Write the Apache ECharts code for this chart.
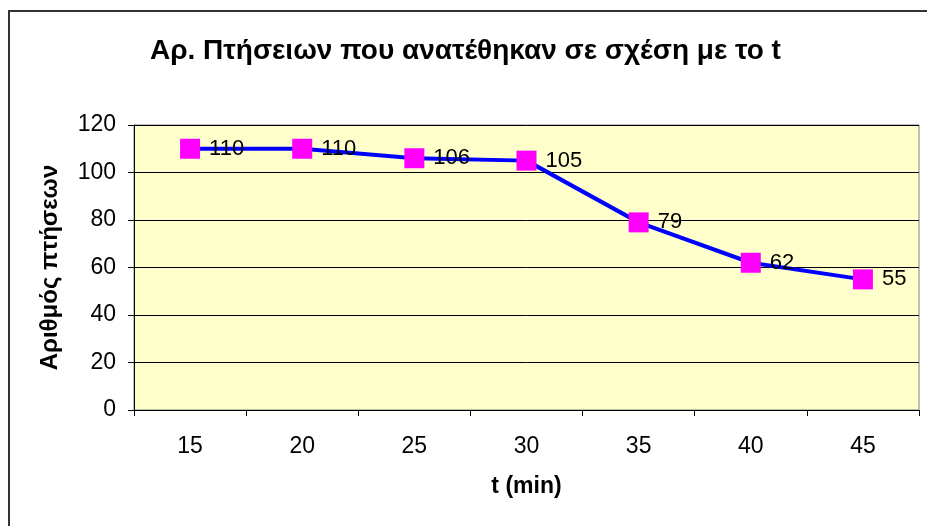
<!DOCTYPE html>
<html>
<head>
<meta charset="utf-8">
<script src="https://cdn.jsdelivr.net/npm/echarts@6/dist/echarts.min.js"></script>
<style>
  html, body { margin: 0; padding: 0; background: #fff; }
  #chart { width: 927px; height: 526px; }
</style>
</head>
<body>
<div id="chart"></div>
<script>
// Minutes (t) and number of flights assigned
const categories = ['15', '20', '25', '30', '35', '40', '45'];
const flights = [110, 110, 106, 105, 79, 62, 55];
const yTicks = [0, 20, 40, 60, 80, 100, 120];

const chart = echarts.init(document.getElementById('chart'), null, { renderer: 'canvas' });
const font = 'Arial, "Liberation Sans", sans-serif';

chart.setOption({
  animation: false,
  backgroundColor: '#ffffff',
  title: {
    text: 'Αρ. Πτήσειων που ανατέθηκαν σε σχέση με το t',
    left: 145,
    top: 32,
    textStyle: { fontFamily: font, fontSize: 28, fontWeight: 'bold', color: '#000' }
  },
  graphic: [{
    type: 'rect',
    shape: { x: 9, y: 11, width: 940, height: 540 },
    style: { fill: 'none', stroke: '#333', lineWidth: 2 },
    silent: true,
    z: 0
  }],
  grid: {
    left: 134, right: 8, top: 125, bottom: 116,
    show: true,
    backgroundColor: '#ffffcc',
    borderColor: '#808080',
    borderWidth: 1
  },
  xAxis: {
    type: 'category',
    data: categories,
    boundaryGap: true,
    name: 't (min)',
    nameLocation: 'middle',
    nameGap: 65,
    nameTextStyle: { fontFamily: font, fontSize: 23, fontWeight: 'bold', color: '#000' },
    axisLine: { lineStyle: { color: '#000', width: 1 } },
    axisTick: { show: true, alignWithLabel: false, length: 6, lineStyle: { color: '#000' } },
    axisLabel: { fontFamily: font, fontSize: 23, color: '#000', margin: 25 },
    splitLine: { show: false }
  },
  yAxis: {
    type: 'value',
    min: yTicks[0],
    max: yTicks[yTicks.length - 1],
    interval: 20,
    name: 'Αριθμός πτήσεων',
    nameLocation: 'middle',
    nameGap: 72,
    nameRotate: 90,
    nameTextStyle: { fontFamily: font, fontSize: 24, fontWeight: 'bold', color: '#000' },
    axisLine: { show: true, lineStyle: { color: '#000', width: 1 } },
    axisTick: { show: true, length: 6, lineStyle: { color: '#000' } },
    axisLabel: { fontFamily: font, fontSize: 23, color: '#000', margin: 18 },
    splitLine: { show: true, lineStyle: { color: '#000', width: 1 } }
  },
  series: [{
    type: 'line',
    data: flights,
    symbol: 'rect',
    symbolSize: 20,
    itemStyle: { color: '#ff00ff' },
    lineStyle: { color: '#0000ff', width: 4 },
    label: {
      show: true,
      position: 'right',
      distance: 9,
      fontFamily: font,
      fontSize: 22,
      color: '#000'
    },
    z: 3
  }]
});
</script>
</body>
</html>
